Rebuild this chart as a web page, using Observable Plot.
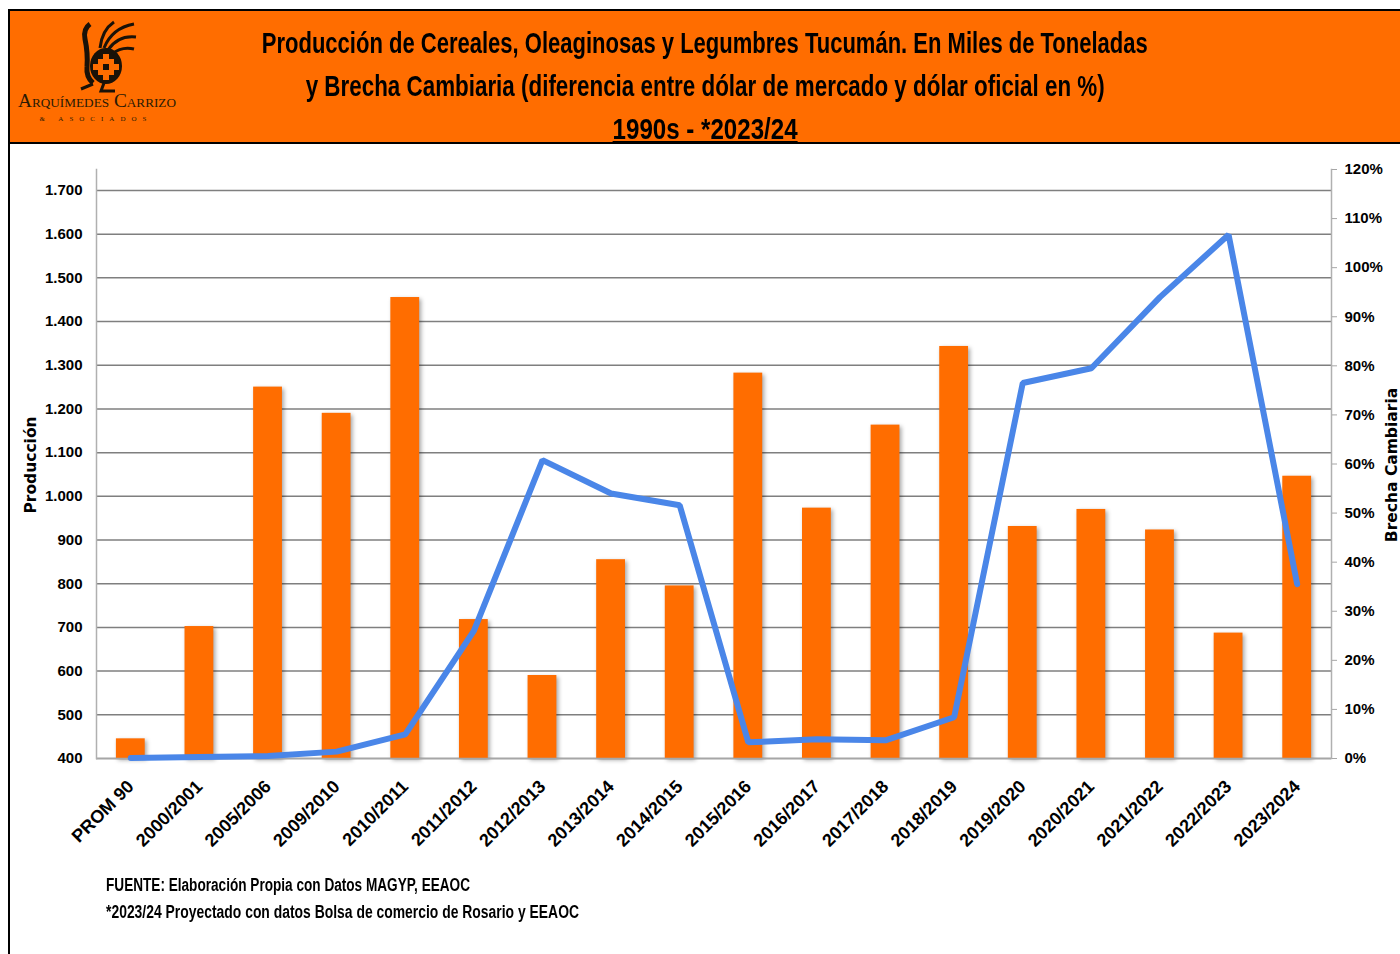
<!DOCTYPE html>
<html>
<head>
<meta charset="utf-8">
<script src="https://cdn.jsdelivr.net/npm/d3@7"></script>
<script src="https://cdn.jsdelivr.net/npm/@observablehq/plot@0.6"></script>
<style>
  html, body { margin: 0; padding: 0; background: #fff; }
  body { width: 1400px; height: 954px; position: relative; overflow: hidden; }
  .narrow { font-family: "Liberation Sans", Arial, sans-serif; font-weight: bold; }
  #header { position: absolute; left: 8px; top: 9px; width: 1392px; height: 131px; background: #FF6D00;
            border-top: 2px solid #000; border-bottom: 2px solid #000; border-left: 2px solid #000; }
  .title { position: absolute; left: 10px; width: 1390px; text-align: center; font-size: 30px; color: #000; line-height: 1; white-space: nowrap; }
  .title span, .note span { display: inline-block; }
  #leftline { position: absolute; left: 8px; top: 143px; width: 2px; height: 811px; background: #000; }
  #chart { position: absolute; left: 0; top: 143px; }
  .note { position: absolute; left: 106px; font-size: 18px; color: #000; white-space: nowrap; line-height: 1; }
  .note span { transform-origin: left center; }
  .ylab { position: absolute; font-family: "DejaVu Sans", Verdana, sans-serif; font-weight: bold; font-size: 15.5px; color: #000; white-space: nowrap; transform-origin: center center; }
  svg g[aria-label="bar"] { filter: drop-shadow(2px 2px 2px rgba(0,0,0,0.35)); }
</style>
</head>
<body>
<div id="header"></div>
<svg id="logo" width="200" height="130" style="position:absolute;left:0;top:10px" xmlns="http://www.w3.org/2000/svg">
  <g fill="#1a1208" stroke="#1a1208">
    <path d="M90 14 q-7 5 -5 15 q3 14 2 28 q-1 10 6 16" fill="none" stroke-width="5"/>
    <ellipse cx="106" cy="56" rx="16" ry="18" stroke="none"/>
    <path d="M104 38 q8 -20 30 -24" fill="none" stroke-width="3"/>
    <path d="M108 40 q10 -15 28 -13" fill="none" stroke-width="3"/>
    <path d="M112 44 q10 -8 22 -5" fill="none" stroke-width="3"/>
    <path d="M100 38 q2 -18 14 -26" fill="none" stroke-width="3"/>
    <path d="M93 74 l-12 5 M104 73 l-3 8 l14 0" fill="none" stroke-width="3"/>
  </g>
  <path d="M103 44 h6 v5 h5 v5 h5 v6 h-5 v5 h-5 v5 h-6 v-5 h-5 v-5 h-5 v-6 h5 v-5 h5 z" fill="#FF6D00"/>
  <rect x="103" y="54" width="6" height="6" fill="#1a1208"/>
  <text x="97" y="97" text-anchor="middle" font-family="Liberation Serif, serif" font-size="19" fill="#2a1a05" style="font-variant: small-caps;" textLength="158" lengthAdjust="spacingAndGlyphs">Arquímedes Carrizo</text>
  <text x="96" y="111" text-anchor="middle" font-family="Liberation Serif, serif" font-size="7" fill="#2a1a05" letter-spacing="6">&amp; ASOCIADOS</text>
</svg>
<div class="title narrow" style="top:28px"><span data-w="886">Producción de Cereales, Oleaginosas y Legumbres Tucumán. En Miles de Toneladas</span></div>
<div class="title narrow" style="top:71px"><span data-w="799">y Brecha Cambiaria (diferencia entre dólar de mercado y dólar oficial en %)</span></div>
<div class="title narrow" style="top:114px"><span data-w="185" style="text-decoration: underline;">1990s - *2023/24</span></div>
<div id="leftline"></div>
<div id="chart"></div>
<div class="note narrow" style="top:876px"><span data-w="364">FUENTE: Elaboración Propia con Datos MAGYP, EEAOC</span></div>
<div class="note narrow" style="top:903px"><span data-w="473">*2023/24 Proyectado con datos Bolsa de comercio de Rosario y EEAOC</span></div>
<div class="ylab" id="ylabL">Producción</div>
<div class="ylab" id="ylabR">Brecha Cambiaria</div>
<script>
const categorias = ["PROM 90","2000/2001","2005/2006","2009/2010","2010/2011","2011/2012","2012/2013","2013/2014","2014/2015","2015/2016","2016/2017","2017/2018","2018/2019","2019/2020","2020/2021","2021/2022","2022/2023","2023/2024"];
const produccion = [445, 702, 1250, 1190, 1455, 718, 590, 855, 795, 1282, 973, 1163, 1343, 931, 970, 923, 687, 1046];
const brecha = [0.1, 0.3, 0.5, 1.4, 4.9, 26, 60.8, 54, 51.6, 3.3, 3.9, 3.7, 8.4, 76.5, 79.5, 94, 106.7, 35.5];
const ticksProduccion = [400, 500, 600, 700, 800, 900, 1000, 1100, 1200, 1300, 1400, 1500, 1600, 1700];
const ticksBrecha = [0, 10, 20, 30, 40, 50, 60, 70, 80, 90, 100, 110, 120];

const Y_MIN = 400, Y_MAX = 1748, P_MAX = 120;
const toY = p => Y_MIN + p * (Y_MAX - Y_MIN) / P_MAX;
const fromY = v => (v - Y_MIN) * P_MAX / (Y_MAX - Y_MIN);
const data = categorias.map((c, i) => ({cat: c, prod: produccion[i], brecha: brecha[i]}));
const fmtMiles = d => d3.format(",")(d).replace(/,/g, ".");
const FONT = '"Liberation Sans", Arial, sans-serif';

const chart = Plot.plot({
  width: 1400, height: 811,
  marginTop: 26, marginBottom: 196, marginLeft: 96, marginRight: 69,
  style: {fontFamily: FONT, fontSize: "15px", fontWeight: "bold", color: "#000", background: "transparent", overflow: "visible"},
  x: {type: "band", domain: categorias, paddingInner: 0.58, paddingOuter: 0.29, round: false, label: null},
  y: {domain: [Y_MIN, Y_MAX], label: null},
  marks: [
    Plot.gridY(ticksProduccion, {stroke: "#7f7f7f", strokeOpacity: 1, strokeWidth: 1.5}),
    Plot.barY(data, {x: "cat", y1: Y_MIN, y2: "prod", fill: "#FF6D00"}),
    Plot.ruleY([Y_MIN], {stroke: "#a6a6a6", strokeWidth: 1.5}),
    Plot.frame({anchor: "left", stroke: "#b0b0b0", strokeWidth: 1.5}),
    Plot.frame({anchor: "right", stroke: "#b0b0b0", strokeWidth: 1.5}),
    Plot.line(data, {x: "cat", y: d => toY(d.brecha), stroke: "#4a86e8", strokeWidth: 6, strokeLinejoin: "miter"}),
    Plot.axisY(ticksProduccion, {anchor: "left", tickSize: 0, tickPadding: 14, tickFormat: fmtMiles, label: null}),
    Plot.axisY(ticksBrecha.map(toY), {anchor: "right", tickSize: 5, tickPadding: 8, stroke: "#a6a6a6", tickFormat: d => Math.round(fromY(d)) + "%", label: null}),
    Plot.axisX({tickRotate: -45, tickSize: 0, tickPadding: 25, fontSize: 18, label: null})
  ]
});
document.getElementById("chart").appendChild(chart);

document.querySelectorAll("span[data-w]").forEach(el => {
  const w = el.getBoundingClientRect().width;
  const target = +el.dataset.w;
  el.style.transform = `scaleX(${target / w})`;
});

function placeYLabel(id, cx, cy) {
  const el = document.getElementById(id);
  const w = el.offsetWidth, h = el.offsetHeight;
  el.style.left = (cx - w / 2) + "px";
  el.style.top = (cy - h / 2) + "px";
  el.style.transform = "rotate(-90deg)";
}
placeYLabel("ylabL", 30, 465);
placeYLabel("ylabR", 1392, 465);
</script>
</body>
</html>
